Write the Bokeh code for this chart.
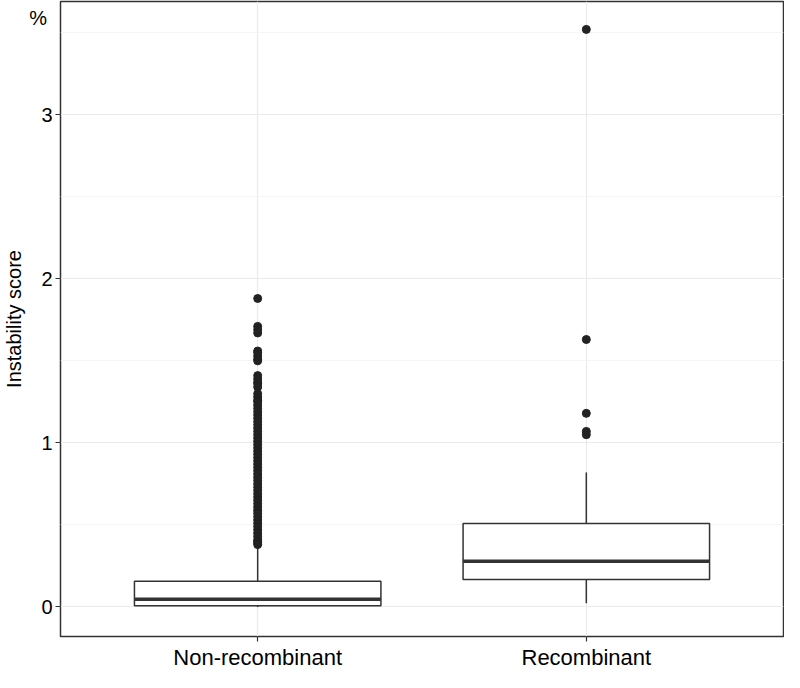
from bokeh.plotting import figure
from bokeh.models import (ColumnDataSource, FactorRange, Range1d, FixedTicker, LinearAxis,
                          CustomJSTickFormatter)
from bokeh.transform import dodge
from bokeh.embed import file_html
from bokeh.resources import INLINE

# ---- data ----
categories = ["Non-recombinant", "Recombinant"]
whisker_low = [0.0, 0.022]
q1 = [0.007, 0.168]
median = [0.047, 0.278]
q3 = [0.156, 0.508]
whisker_high = [0.375, 0.82]

outliers_nonrec = [1.88, 1.71, 1.69, 1.67, 1.56, 1.55, 1.53, 1.51, 1.50,
                   1.41, 1.39, 1.37, 1.36, 1.34,
                   1.30, 1.28, 1.26, 1.25, 1.23, 1.21, 1.19, 1.17, 1.15, 1.13,
                   1.11, 1.09, 1.07, 1.05, 1.03, 1.01, 0.99, 0.97, 0.95, 0.93,
                   0.91, 0.89, 0.87, 0.85, 0.83, 0.81, 0.79, 0.77, 0.75, 0.73,
                   0.71, 0.69, 0.67, 0.65, 0.63, 0.61, 0.59, 0.57, 0.55, 0.53,
                   0.51, 0.49, 0.47, 0.45, 0.43, 0.41, 0.40, 0.39, 0.38]
outliers_rec = [3.52, 1.63, 1.18, 1.07, 1.05]

y_ticks = [0, 1, 2, 3]
y_minor = [0.5, 1.5, 2.5, 3.5]
unit_label = "%"
unit_label_pos = 3.59

FONT = "Liberation Sans"
DARK = "#333333"

box_src = ColumnDataSource(dict(cat=categories, lo=whisker_low, q1=q1, med=median,
                                q3=q3, hi=whisker_high))
out_cat = [categories[0]] * len(outliers_nonrec) + [categories[1]] * len(outliers_rec)
out_src = ColumnDataSource(dict(cat=out_cat, y=outliers_nonrec + outliers_rec))

p = figure(width=784, height=672, output_backend="svg", toolbar_location=None,
           x_range=FactorRange(*categories, range_padding=0.1, range_padding_units="absolute"),
           y_range=Range1d(-0.18, 3.69), y_axis_location=None,
           min_border_left=10, min_border_right=1, min_border_top=1, min_border_bottom=26)

p.background_fill_color = "white"
p.outline_line_color = DARK
p.outline_line_width = 1.5

# inner y axis: tick marks only (no labels)
tick_axis = LinearAxis(ticker=FixedTicker(ticks=y_ticks),
                       formatter=CustomJSTickFormatter(code="return ''"))
tick_axis.axis_line_color = None
tick_axis.major_tick_line_color = DARK
tick_axis.major_tick_line_width = 1.2
tick_axis.major_tick_out = 5
tick_axis.major_tick_in = 0
tick_axis.minor_tick_line_color = None
tick_axis.major_label_standoff = 0
p.add_layout(tick_axis, "left")

# outer y axis: tick labels, unit label and axis title
label_axis = LinearAxis(ticker=FixedTicker(ticks=y_ticks + [unit_label_pos]))
label_axis.major_label_overrides = {unit_label_pos: unit_label + "\u00a0"}
label_axis.axis_line_color = None
label_axis.major_tick_line_color = None
label_axis.major_tick_out = 0
label_axis.major_tick_in = 0
label_axis.minor_tick_line_color = None
label_axis.major_label_text_font = FONT
label_axis.major_label_text_font_size = "20px"
label_axis.major_label_text_color = "#000000"
label_axis.major_label_standoff = 3
label_axis.axis_label = "Instability score"
label_axis.axis_label_text_font = FONT
label_axis.axis_label_text_font_size = "20px"
label_axis.axis_label_text_font_style = "normal"
label_axis.axis_label_text_color = "#000000"
label_axis.axis_label_standoff = 1
p.add_layout(label_axis, "left")

# grids
p.xgrid.grid_line_color = "#ebebeb"
p.xgrid.grid_line_width = 1.2
p.ygrid.ticker = FixedTicker(ticks=y_ticks, minor_ticks=y_minor)
p.ygrid.grid_line_color = "#ebebeb"
p.ygrid.grid_line_width = 1.2
p.ygrid.minor_grid_line_color = "#f2f2f2"
p.ygrid.minor_grid_line_width = 0.8

# x axis
xa = p.xaxis[0]
xa.axis_line_color = None
xa.major_tick_line_color = DARK
xa.major_tick_line_width = 1.2
xa.major_tick_out = 5
xa.major_tick_in = 0
xa.minor_tick_line_color = None
xa.major_label_text_font = FONT
xa.major_label_text_color = "#000000"
xa.major_label_text_font_size = "22px"
xa.major_label_standoff = 3

# whiskers
p.segment(x0="cat", x1="cat", y0="q3", y1="hi", source=box_src, line_color=DARK, line_width=1.5)
p.segment(x0="cat", x1="cat", y0="lo", y1="q1", source=box_src, line_color=DARK, line_width=1.5)
# boxes
p.vbar(x="cat", width=0.75, bottom="q1", top="q3", source=box_src,
       fill_color="white", line_color=DARK, line_width=1.5)
# medians
p.segment(x0=dodge("cat", -0.375, range=p.x_range), x1=dodge("cat", 0.375, range=p.x_range),
          y0="med", y1="med", source=box_src, line_color=DARK, line_width=3.5)
# outliers
p.scatter(x="cat", y="y", source=out_src, size=8, marker="circle",
          fill_color="#222222", line_color="#222222")

open("out.html", "w").write(file_html(p, INLINE))
